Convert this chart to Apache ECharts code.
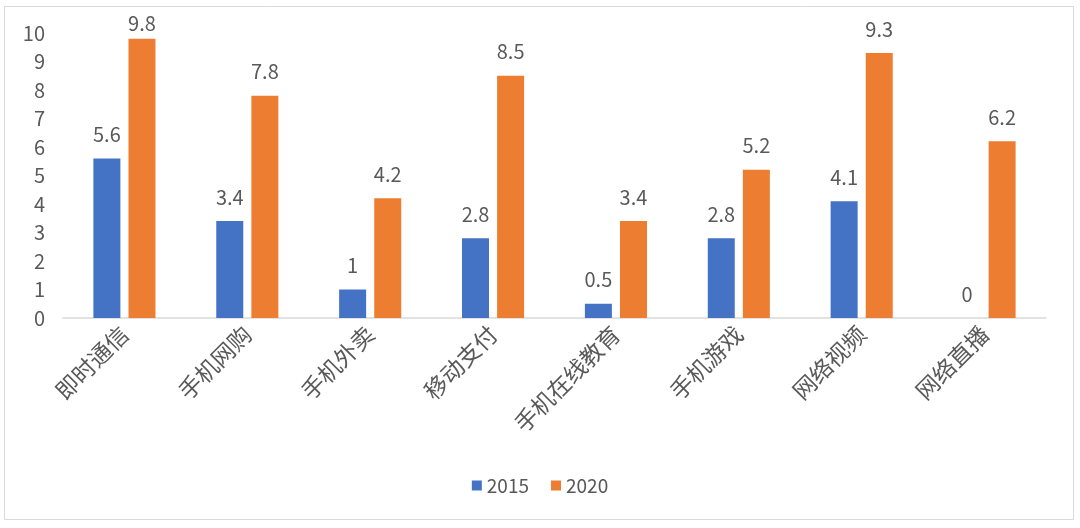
<!DOCTYPE html>
<html><head><meta charset="utf-8">
<script src="https://cdn.jsdelivr.net/npm/echarts@6/dist/echarts.min.js"></script>
<style>html,body{margin:0;padding:0;background:#fff}#c{width:1080px;height:528px}</style>
</head><body><div id="c"></div>
<script>
const categories = ['即时通信','手机网购','手机外卖','移动支付','手机在线教育','手机游戏','网络视频','网络直播'];
const values2015 = [5.6,3.4,1,2.8,0.5,2.8,4.1,0];
const values2020 = [9.8,7.8,4.2,8.5,3.4,5.2,9.3,6.2];
const yTicks = {min:0,max:10,interval:1};
const font = '"Noto Sans CJK SC", sans-serif';
const chart = echarts.init(document.getElementById('c'));
const lbl = {show:true,position:'top',distance:14,color:'#595959',fontSize:20,fontFamily:font};
const clampTop = function(p){ const t = p.labelRect.y; return t < 13 ? {dy: 13 - t} : {}; };
chart.setOption({
  animation:false,
  textStyle:{fontFamily:font},
  graphic:[{type:'rect',shape:{x:4.5,y:6.5,width:1069,height:513},style:{fill:'none',stroke:'#d9d9d9',lineWidth:1},silent:true}],
  grid:{left:63,right:34,top:33,bottom:210},
  legend:{bottom:28,left:'center',itemWidth:10,itemHeight:10,itemGap:22,icon:'rect',
    textStyle:{color:'#595959',fontSize:19,fontFamily:font},data:['2015','2020']},
  xAxis:{type:'category',data:categories,
    axisLine:{lineStyle:{color:'#d9d9d9',width:1.5}},axisTick:{show:false},
    axisLabel:{rotate:45,color:'#595959',fontSize:23,fontFamily:font,margin:12,interval:0}},
  yAxis:{type:'value',min:yTicks.min,max:yTicks.max,interval:yTicks.interval,
    splitLine:{show:false},axisLine:{show:false},axisTick:{show:false},
    axisLabel:{color:'#595959',fontSize:20,fontFamily:font,margin:18}},
  series:[
    {name:'2015',type:'bar',data:values2015,barWidth:27,barGap:'30%',itemStyle:{color:'#4472C4'},label:lbl,labelLayout:clampTop},
    {name:'2020',type:'bar',data:values2020,barWidth:27,barGap:'30%',itemStyle:{color:'#ED7D31'},label:lbl,labelLayout:clampTop}
  ]
});
</script></body></html>
